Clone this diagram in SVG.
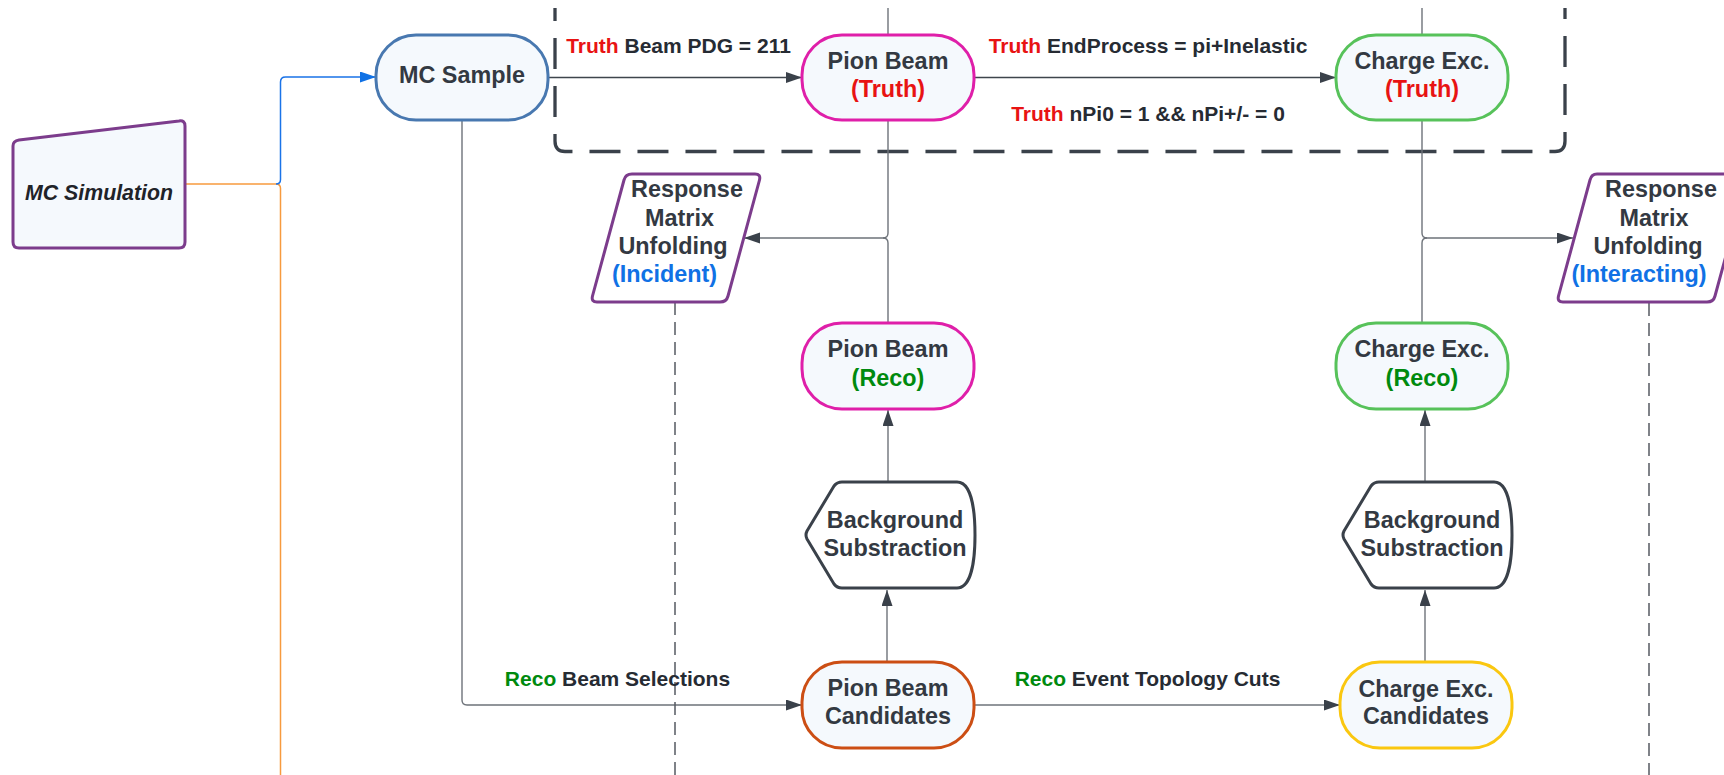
<svg xmlns="http://www.w3.org/2000/svg" width="1724" height="775" viewBox="0 0 1724 775">
  <style>
    .node { fill: #f5f9fd; stroke-width: 3; }
    .plain { fill: #ffffff; stroke-width: 3; }
    .t { font-family: "Liberation Sans", Arial, sans-serif; font-weight: bold; font-size: 23.4px; fill: #333942; text-anchor: middle; }
    .lbl { font-family: "Liberation Sans", Arial, sans-serif; font-weight: bold; font-size: 21px; fill: #262b33; text-anchor: middle; }
    .red { fill: #e81313; }
    .green { fill: #008a0e; }
    .blue { fill: #1071e5; }
    .wire { fill: none; stroke: #3f454d; stroke-width: 1.4; }
    .wire-g { fill: none; stroke: #6e737a; stroke-width: 1.4; }
    .dash { fill: none; stroke: #555a61; stroke-width: 1.5; stroke-dasharray: 13 7; }
  </style>
  <defs>
    <marker id="arr" markerUnits="userSpaceOnUse" markerWidth="16" markerHeight="12" refX="16" refY="5.5" orient="auto">
      <path d="M0,0 L16,5.5 L0,11 Z" fill="#3a414a"/>
    </marker>
    <marker id="arr-blue" markerUnits="userSpaceOnUse" markerWidth="16" markerHeight="12" refX="16" refY="5.5" orient="auto">
      <path d="M0,0 L16,5.5 L0,11 Z" fill="#1071e5"/>
    </marker>
  </defs>

  <rect width="1724" height="775" fill="#ffffff"/>

  <!-- truth-level selection frame -->
  <path d="M555,8 V141 Q555,151.5 565,151.5 H1555 Q1565,151.5 1565,141 V8" fill="none" stroke="#3a414a" stroke-width="3.3" stroke-dasharray="31 17" stroke-dashoffset="18"/>

  <g id="connectors">
    <!-- simulation feeds -->
    <path d="M185,184 H276 Q280.5,184 280.5,188.5 V775" fill="none" stroke="#f79a3e" stroke-width="1.5"/>
    <path d="M276,184 Q280.5,184 280.5,179.5 V82 Q280.5,77 285.5,77 H376" fill="none" stroke="#1a73e8" stroke-width="1.5" marker-end="url(#arr-blue)"/>
    <!-- truth chain -->
    <path class="wire" d="M548,77.5 H802" marker-end="url(#arr)"/>
    <path class="wire" d="M974,77.5 H1336" marker-end="url(#arr)"/>
    <path class="wire-g" d="M888,8 V35"/>
    <path class="wire-g" d="M1422,8 V35"/>
    <!-- reco chain -->
    <path class="wire-g" d="M462,120 V700 Q462,705 467,705 H802" marker-end="url(#arr)"/>
    <path class="wire-g" d="M974,705 H1340" marker-end="url(#arr)"/>
    <!-- unfolding inputs -->
    <path class="wire-g" d="M888,120 V233 Q888,238 883,238 H744" marker-end="url(#arr)"/>
    <path class="wire-g" d="M888,323 V243 Q888,238 883,238"/>
    <path class="wire-g" d="M1422,120 V233 Q1422,238 1427,238 H1573" marker-end="url(#arr)"/>
    <path class="wire-g" d="M1422,323 V243 Q1422,238 1427,238"/>
    <!-- background subtraction -->
    <path class="wire-g" d="M887,662 V590" marker-end="url(#arr)"/>
    <path class="wire-g" d="M888,482 V410" marker-end="url(#arr)"/>
    <path class="wire-g" d="M1425,662 V590" marker-end="url(#arr)"/>
    <path class="wire-g" d="M1425,482 V410" marker-end="url(#arr)"/>
    <!-- unfolding outputs -->
    <path class="dash" d="M675,302 V775"/>
    <path class="dash" d="M1649,303 V775"/>
  </g>

  <!-- edge labels -->
  <g id="labels">
    <text class="lbl" x="678.5" y="53"><tspan class="red">Truth</tspan> Beam PDG = 211</text>
    <text class="lbl" x="1148" y="53"><tspan class="red">Truth</tspan> EndProcess = pi+Inelastic</text>
    <text class="lbl" x="1148" y="121"><tspan class="red">Truth</tspan> nPi0 = 1 &amp;&amp; nPi+/- = 0</text>
    <text class="lbl" x="617.5" y="686"><tspan class="green">Reco</tspan> Beam Selections</text>
    <text class="lbl" x="1147.5" y="686"><tspan class="green">Reco</tspan> Event Topology Cuts</text>
  </g>

  <g id="mc-simulation">
    <path class="node" stroke="#7c3c8c" d="M19,140 L179,121 Q185,120 185,126 V242 Q185,248 179,248 H19 Q13,248 13,242 V146 Q13,141 19,140 Z"/>
    <text x="99" y="200" style="font-family:'Liberation Sans',Arial,sans-serif;font-weight:bold;font-style:italic;font-size:21.3px;fill:#1f2329;text-anchor:middle">MC Simulation</text>
  </g>

  <g id="mc-sample">
    <rect class="node" stroke="#4878b0" x="376" y="35" width="172" height="85" rx="40"/>
    <text class="t" x="462" y="83">MC Sample</text>
  </g>

  <g id="pion-beam-truth">
    <rect class="node" stroke="#df1fa9" x="802" y="35" width="172" height="85" rx="40"/>
    <text class="t" x="888" y="68.5">Pion Beam</text>
    <text class="t red" x="888" y="97">(Truth)</text>
  </g>

  <g id="charge-exc-truth">
    <rect class="node" stroke="#57c25a" x="1336" y="35" width="172" height="85" rx="40"/>
    <text class="t" x="1422" y="68.5">Charge Exc.</text>
    <text class="t red" x="1422" y="97">(Truth)</text>
  </g>

  <g id="unfolding-incident">
    <path class="plain" stroke="#7c3c8c" stroke-linejoin="round" d="M632,174 H755 Q761,174 759.5,180 L728,296 Q726.5,302 720,302 H597 Q591,302 592.5,296 L624,180 Q625.5,174 632,174 Z"/>
    <text class="t" x="687" y="197">Response</text>
    <text class="t" x="679.5" y="225.6">Matrix</text>
    <text class="t" x="673" y="254.2">Unfolding</text>
    <text class="t blue" x="664.5" y="282">(Incident)</text>
  </g>

  <g id="unfolding-interacting">
    <path class="plain" stroke="#7c3c8c" stroke-linejoin="round" d="M1597,174 H1742 Q1748,174 1746.5,180 L1715,296 Q1713.5,302 1707,302 H1563 Q1557,302 1558.5,296 L1590,180 Q1591.5,174 1597,174 Z"/>
    <text class="t" x="1661" y="197">Response</text>
    <text class="t" x="1654" y="225.6">Matrix</text>
    <text class="t" x="1648" y="254.2">Unfolding</text>
    <text class="t blue" x="1639" y="282">(Interacting)</text>
  </g>

  <g id="pion-beam-reco">
    <rect class="node" stroke="#df1fa9" x="802" y="323" width="172" height="86" rx="40"/>
    <text class="t" x="888" y="357">Pion Beam</text>
    <text class="t green" x="888" y="385.5">(Reco)</text>
  </g>

  <g id="charge-exc-reco">
    <rect class="node" stroke="#57c25a" x="1336" y="323" width="172" height="86" rx="40"/>
    <text class="t" x="1422" y="357">Charge Exc.</text>
    <text class="t green" x="1422" y="385.5">(Reco)</text>
  </g>

  <g id="background-sub-pion">
    <path class="plain" stroke="#3a414a" stroke-width="3.5" stroke-linejoin="round" d="M807,531 L834,486 Q837,482 842,482 H957 C970,482 975,505 975,535 C975,565 970,588 957,588 H842 Q837,588 834,584 L807,539 Q805,535 807,531 Z"/>
    <text class="t" x="895" y="528">Background</text>
    <text class="t" x="895" y="556">Substraction</text>
  </g>

  <g id="background-sub-cex">
    <path class="plain" stroke="#3a414a" stroke-width="3.5" stroke-linejoin="round" d="M1344,531 L1371,486 Q1374,482 1379,482 H1494 C1507,482 1512,505 1512,535 C1512,565 1507,588 1494,588 H1379 Q1374,588 1371,584 L1344,539 Q1342,535 1344,531 Z"/>
    <text class="t" x="1432" y="528">Background</text>
    <text class="t" x="1432" y="556">Substraction</text>
  </g>

  <g id="pion-beam-candidates">
    <rect class="node" stroke="#cc4e14" x="802" y="662" width="172" height="86" rx="40"/>
    <text class="t" x="888" y="696">Pion Beam</text>
    <text class="t" x="888" y="724">Candidates</text>
  </g>

  <g id="charge-exc-candidates">
    <rect class="node" stroke="#fac710" x="1340" y="662" width="172" height="86" rx="40"/>
    <text class="t" x="1426" y="697">Charge Exc.</text>
    <text class="t" x="1426" y="724">Candidates</text>
  </g>
</svg>
